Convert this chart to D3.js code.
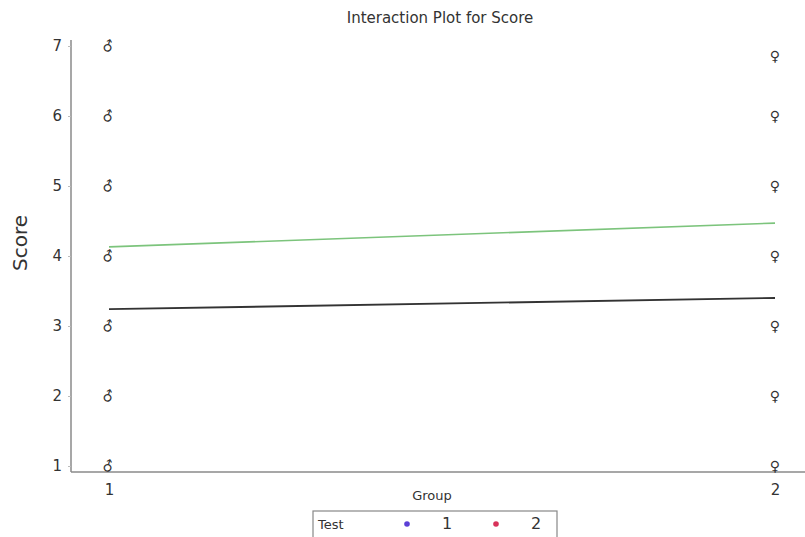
<!DOCTYPE html>
<html><head><meta charset="utf-8">
<script src="https://cdn.jsdelivr.net/npm/d3@7"></script>
<style>body{margin:0;background:#fff}svg{display:block}text{font-family:"DejaVu Sans",Verdana,sans-serif;fill:#333}</style>
</head><body>
<svg id="c" width="805" height="537"></svg>
<script>
const groups = [1, 2];
const yTicks = [1, 2, 3, 4, 5, 6, 7];
const maleScores = [1, 2, 3, 4, 5, 6, 7];          // group 1 points
const femaleScores = [1, 2, 3, 4, 5, 6, 6.85];     // group 2 points
const lineGreen = [4.13, 4.47];
const lineBlack = [3.24, 3.40];
const legendItems = [{label: "1", color: "#5b3fd6"}, {label: "2", color: "#d8325a"}];

const svg = d3.select("#c");
const x = d3.scaleLinear().domain([1, 2]).range([109, 775]);
const y = d3.scaleLinear().domain([1, 7]).range([466, 46]);
const x0 = 71, yBottom = 472, yTop = 40;

svg.append("line").attr("x1", x0).attr("x2", x0).attr("y1", yTop).attr("y2", yBottom).attr("stroke", "#8a8a8a").attr("stroke-width", 1.5);
svg.append("line").attr("x1", x0).attr("x2", 805).attr("y1", yBottom).attr("y2", yBottom).attr("stroke", "#8a8a8a").attr("stroke-width", 1.5);

const yAxis = d3.axisLeft(y).tickValues(yTicks).tickSize(3).tickPadding(6).tickFormat(d3.format("d"));
const ga = svg.append("g").attr("transform", `translate(${x0},0)`).call(yAxis);
ga.select(".domain").remove();
ga.selectAll("line").attr("stroke", "#bbb");
ga.selectAll("text").style("font-size", "15px").style("font-family", "DejaVu Sans, sans-serif").attr("fill", "#333");

const xAxis = d3.axisBottom(x).tickValues(groups).tickSize(0).tickPadding(12).tickFormat(d3.format("d"));
const gx = svg.append("g").attr("transform", `translate(0,${yBottom})`).call(xAxis);
gx.select(".domain").remove();
gx.selectAll("text").style("font-size", "15px").style("font-family", "DejaVu Sans, sans-serif").attr("fill", "#333");

const lg = d3.line().x((d, i) => x(groups[i])).y(d => y(d));
svg.append("path").datum(lineGreen).attr("d", lg).attr("fill", "none").attr("stroke", "#7cc47c").attr("stroke-width", 1.6);
svg.append("path").datum(lineBlack).attr("d", lg).attr("fill", "none").attr("stroke", "#333").attr("stroke-width", 1.8);

svg.selectAll(".m").data(maleScores).join("text").attr("class", "m")
  .attr("x", x(1) - 1).attr("y", d => y(d)).attr("text-anchor", "middle").attr("dy", "0.35em")
  .style("font-size", "14px").attr("fill", "#222").text("\u2642")
  .attr("transform", d => `rotate(-30 ${x(1) - 1} ${y(d)})`);
svg.selectAll(".f").data(femaleScores).join("text").attr("class", "f")
  .attr("x", x(2)).attr("y", d => y(d)).attr("text-anchor", "middle").attr("dy", "0.35em")
  .style("font-size", "14px").attr("fill", "#222").text("\u2640");

svg.append("text").attr("x", 440).attr("y", 23).attr("text-anchor", "middle").style("font-size", "15px").text("Interaction Plot for Score");
svg.append("text").attr("transform", "translate(27,243) rotate(-90)").attr("text-anchor", "middle").style("font-size", "20px").text("Score");
svg.append("text").attr("x", 432).attr("y", 500).attr("text-anchor", "middle").style("font-size", "13px").text("Group");

svg.append("rect").attr("x", 313).attr("y", 511).attr("width", 244).attr("height", 30).attr("fill", "none").attr("stroke", "#888").attr("stroke-width", 1.2);
svg.append("text").attr("x", 318).attr("y", 529).style("font-size", "13px").text("Test");
const li = svg.selectAll(".li").data(legendItems).join("g").attr("class", "li")
  .attr("transform", (d, i) => `translate(${407 + i * 89},0)`);
li.append("circle").attr("cx", 0).attr("cy", 524).attr("r", 2.8).attr("fill", d => d.color);
li.append("text").attr("x", 40).attr("y", 529).attr("text-anchor", "middle").style("font-size", "16px").text(d => d.label);
</script>
</body></html>
